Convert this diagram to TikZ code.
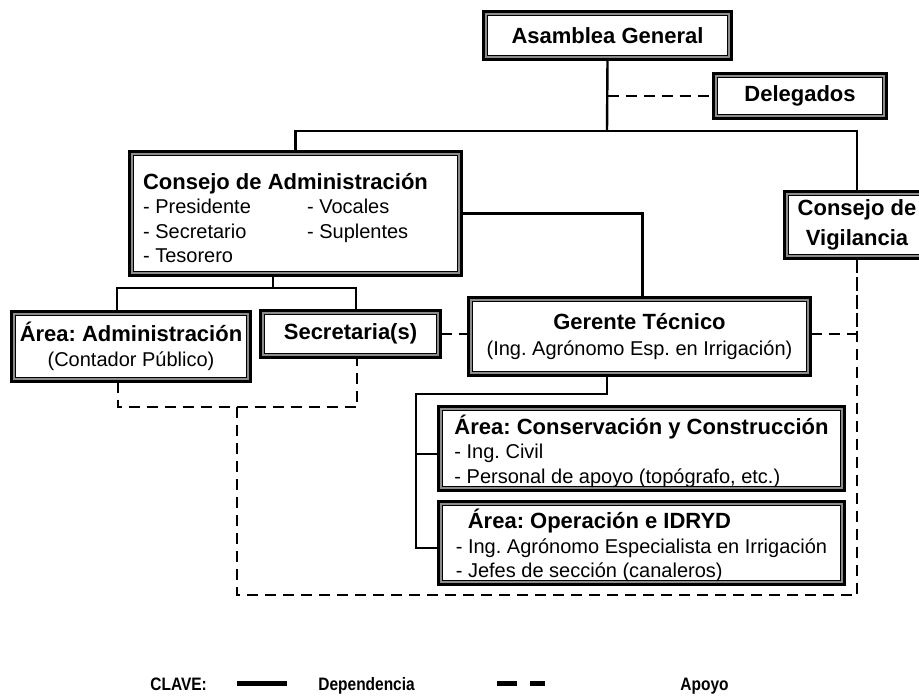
\documentclass[tikz,border=0pt]{standalone}
\usepackage{fontspec}
\setmainfont{Liberation Sans}
\newfontfamily\narrowsans[FakeStretch=0.86]{Liberation Sans}
\usetikzlibrary{positioning}
\frenchspacing
\newcommand{\ttl}{\bfseries\fontsize{11}{15}\selectfont}
\newcommand{\txt}{\fontsize{10}{12.25}\selectfont}
\newcommand{\topstrut}{\rule{0pt}{12.5pt}}
\tikzset{box/.style={draw,line width=1.5pt,outer sep=0pt,inner sep=0pt,align=center,font=\txt,
    append after command={\pgfextra{
        \draw[black!45,line width=1pt] ([shift={(1.25pt,1.25pt)}]\tikzlastnode.south west) rectangle ([shift={(-1.25pt,-1.25pt)}]\tikzlastnode.north east);
        \draw[line width=0.5pt] ([shift={(2pt,2pt)}]\tikzlastnode.south west) rectangle ([shift={(-2pt,-2pt)}]\tikzlastnode.north east);}}}}
\tikzset{lbox/.style={box,align=left}}
\tikzset{dep/.style={draw,line width=1.2pt}}
\tikzset{apo/.style={draw,line width=1.2pt,dash pattern=on 5.5pt off 3.5pt}}
\tikzset{key/.style={font=\narrowsans\bfseries\fontsize{9}{10}\selectfont,anchor=base west,inner sep=0pt}}

\begin{document}
\begin{tikzpicture}[x=0.5pt,y=-0.5pt]
        \clip (0,0) rectangle (919,698);
        \node[box,minimum width=124pt,minimum height=24pt,font=\ttl] (asamblea) at (607.5,35.5) {Asamblea General};
        \node[box,minimum width=86.5pt,minimum height=22.5pt,font=\ttl] (delegados) at (800,96) {Delegados};
        \node[lbox,minimum width=166pt,minimum height=62pt] (consejoAdm) at (295.5,213.5)
            {\topstrut{\ttl Consejo de Administración}\hspace*{10pt}\\
             \makebox[82pt][l]{- Presidente}- Vocales\\
             \makebox[82pt][l]{- Secretario}- Suplentes\\
             - Tesorero};
        \node[box,minimum width=72.5pt,minimum height=33.5pt,font=\ttl] (vigilancia) at (857,225) {Consejo de\\Vigilancia};
        \node[box,minimum width=119.5pt,minimum height=35pt] (admin) at (131,346.5)
            {{\ttl Área: Administración}\\(Contador Público)};
        \node[box,minimum width=90pt,minimum height=23.5pt,font=\ttl] (secretaria) at (350.5,334) {Secretaria(s)};
        \node[box,minimum width=171pt,minimum height=39pt] (gerente) at (639.5,336.5)
            {{\ttl Gerente Técnico}\\[1pt](Ing. Agrónomo Esp. en Irrigación)};
        \node[lbox,minimum width=203pt,minimum height=42pt] (conservacion) at (641.5,448.5)
            {\topstrut{\ttl Área: Conservación y Construcción}\\
             - Ing. Civil\\
             - Personal de apoyo (topógrafo, etc.)};
        \node[lbox,minimum width=203pt,minimum height=41.5pt,below=5.5pt of conservacion] (operacion)
            {\topstrut\hspace*{6pt}{\ttl Área: Operación e IDRYD}\\
             - Ing. Agrónomo Especialista en Irrigación\hspace*{4pt}\\
             - Jefes de sección (canaleros)};
        % dependencia
        \coordinate (jTop) at (607,131);
        \coordinate (jAdm) at (273,288);
        \coordinate (aT) at (117,288);
        \coordinate (sT) at (356,288);
        \coordinate (jG) at (607,394);
        \coordinate (bC) at (416,454);
        \coordinate (bO) at (416,548);
        \path[dep] (asamblea.south) -- (jTop);
        \path[dep] (consejoAdm.north) |- (jTop) -| (vigilancia.north);
        \path[dep] (consejoAdm.east) -| ([xshift=1.5pt]gerente.north);
        \path[dep] (consejoAdm.south -| jAdm) -- (jAdm);
        \path[dep] (admin.north -| aT) -- (aT) -- (sT) -- (secretaria.north -| sT);
        \path[dep] (gerente.south -| jG) -- (jG) -| (bO) -- (bO -| operacion.west);
        \path[dep] (bC) -- (bC -| conservacion.west);
        % apoyo
        \coordinate (dR) at (857,595);
        \coordinate (dL) at (237,595);
        \coordinate (dA) at (237,407);
        \coordinate (aL) at (118,407);
        \coordinate (aR) at (357,407);
        \path[apo] (asamblea.south |- delegados.west) -- (delegados.west);
        \path[apo] (secretaria.east) -- (secretaria.east -| gerente.west);
        \path[apo] (gerente.east |- secretaria.east) -| (vigilancia.south);
        \path[apo] (vigilancia.south) -- (dR) -- (dL) -- (dA);
        \path[apo] (admin.south -| aL) -- (aL) -- (aR) -- (secretaria.south -| aR);
        % clave
        \node[key] (clave) at (150,690) {CLAVE:};
        \coordinate (kS1) at (237,683);
        \coordinate (kS2) at (287,683);
        \path[draw,line width=2.5pt] (kS1) -- (kS2);
        \node[key] (dependencia) at (318,690) {Dependencia};
        \coordinate (kA1) at (497,683);
        \coordinate (kA2) at (545,683);
        \path[draw,line width=2.5pt,dash pattern=on 10pt off 6.5pt] (kA1) -- (kA2);
        \node[key] (apoyo) at (680,690) {Apoyo};
\end{tikzpicture}
\end{document}
